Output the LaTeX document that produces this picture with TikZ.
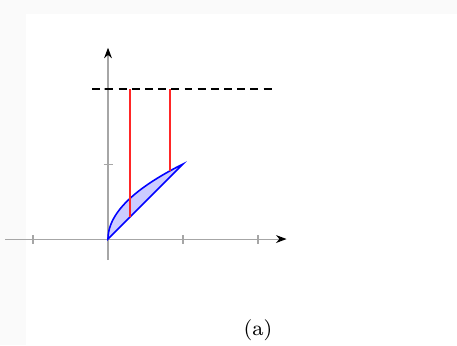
\documentclass[tikz,border=0pt]{standalone}
\usetikzlibrary{arrows.meta}

\begin{document}
\begin{tikzpicture}[
	x=1cm, y=1cm,
	axisline/.style  = {draw=gray!70, line width=0.4pt, -{Stealth[black, length=4pt, width=3pt]}},
	tickmark/.style  = {draw=gray!70, line width=0.4pt},
	level/.style     = {draw=black, line width=0.6pt, dash pattern=on 3pt off 2pt},
	region/.style    = {draw=blue, fill=blue!20, line width=0.6pt},
	stem/.style      = {draw=red!85, line width=0.6pt},
	caption/.style   = {font=\footnotesize}
	]
	
	% ===================== Frame =====================
	\useasboundingbox (-1.44,-1.413) rectangle (4.653,3.187);
	\fill[gray!4] (-1.44,3.0) rectangle (4.653,3.187);
	\fill[gray!4] (-1.44,-1.413) rectangle (-1.1,3.0);
	
	% ===================== Axes =====================
	\coordinate (o) at (0,0);
	\coordinate (xmin) at (-1.37,0);
	\coordinate (xmax) at (2.38,0);
	\coordinate (ymin) at (0,-0.28);
	\coordinate (ymax) at (0,2.55);
	\draw[axisline] (xmin) -- (xmax);
	\draw[axisline] (ymin) -- (ymax);
	\foreach \t in {-1,1,2}
		\draw[tickmark] (\t,-0.06) -- (\t,0.06);
	\foreach \t in {1,2}
		\draw[tickmark] (-0.06,\t) -- (0.06,\t);
	
	% ===================== Region =====================
	\coordinate (tip) at (1,1);
	\filldraw[region] (o) -- plot[domain=0:1, samples=60, smooth] ({\x*\x},\x) -- cycle;
	
	% ===================== Level and stems =====================
	\coordinate (la) at (-0.21,2);
	\coordinate (lb) at (2.2,2);
	\draw[level] (la) -- (lb);
	
	\coordinate (s1top) at (0.293,2);
	\coordinate (s1bot) at (0.293,0.293);
	\coordinate (s2top) at (0.827,2);
	\coordinate (s2bot) at (0.827,0.909);
	\draw[stem] (s1top) -- (s1bot);
	\draw[stem] (s2top) -- (s2bot);
	
	\node[caption] (cap) at (2.0,-1.22) {(a)};
	
\end{tikzpicture}
\end{document}
